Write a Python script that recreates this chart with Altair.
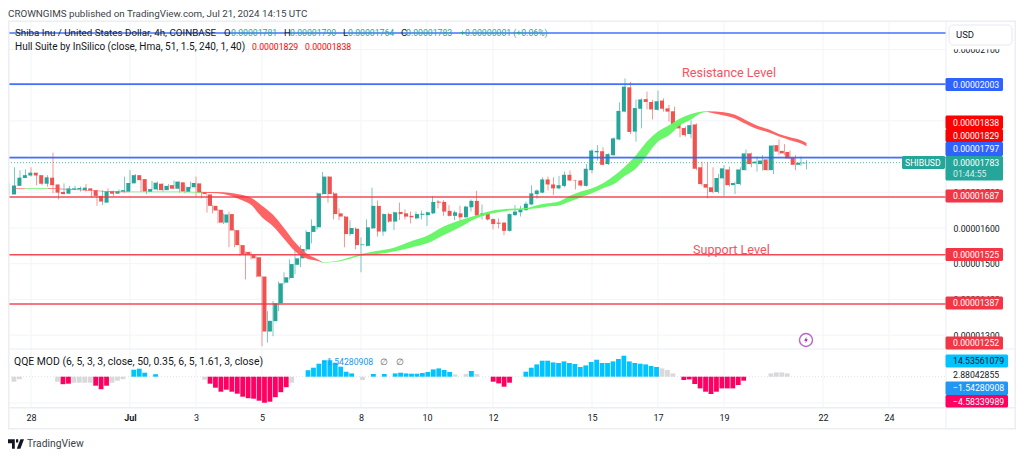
import altair as alt
import pandas as pd

# ---------- candles: prices in 1e-8 USD, first bar index -4, one bar = 4h ----------
first_bar = -4
opens = [1694,1718,1740,1747,1755,1748,1724,1741,1722,1701,1696,1708,1709,1706,1711,1706,1690,1671,1703,1696,1702,1702,1725,1748,1737,1701,1708,1724,1706,1720,1710,1728,1701,1714,1725,1701,1694,1662,1651,1615,
 1639,1594,1552,1533,1524,1518,1464,1310,1339,1389,1447,1460,1497,1515,1540,1589,1602,1695,1744,1697,1641,1632,1583,1598,1552,1550,1599,1662,1590,1639,1618,1645,1641,1634,1627,1637,1636,1641,1674,1673,1648,1634,1641,1630,1658,1676,1635,1641,1625,1615,1615,1592,1636,1644,1650,1666,1695,
 1699,1736,1722,1711,1718,1749,1734,1733,1718,1762,1812,1815,1779,1804,1848,1926,1994,1870,1934,1961,1953,1931,1957,1935,1927,1891,1880,1863,1890,1770,1723,1714,1701,1739,1764,1720,1723,1762,1809,1781,1779,1792,1762,1832,1816,1813,1797,1777,1781]
highs = [1725,1770,1762,1764,1770,1750,1746,1748,1811,1706,1725,1718,1718,1716,1723,1711,1697,1706,1711,1705,1708,1744,1762,1751,1738,1714,1732,1730,1725,1723,1733,1730,1720,1730,1744,1703,1695,1664,1653,1641,
 1646,1596,1554,1534,1534,1520,1466,1367,1396,1450,1476,1512,1555,1552,1594,1624,1699,1757,1746,1701,1655,1634,1622,1602,1574,1624,1713,1677,1641,1643,1646,1671,1652,1646,1646,1649,1646,1690,1678,1678,1664,1649,1662,1662,1680,1704,1666,1645,1627,1627,1617,1641,1664,1662,1674,1720,1708,
 1742,1744,1742,1746,1758,1761,1735,1734,1779,1820,1832,1826,1809,1854,1952,2019,2009,1960,1963,1982,1959,1985,1963,1945,1940,1898,1884,1902,1893,1786,1783,1770,1751,1776,1772,1730,1770,1820,1811,1800,1804,1794,1833,1848,1835,1817,1804,1800,1790]
lows = [1694,1716,1739,1744,1744,1720,1720,1716,1697,1680,1694,1705,1706,1702,1702,1685,1662,1664,1692,1690,1699,1699,1723,1730,1701,1695,1706,1705,1702,1706,1708,1699,1697,1710,1688,1683,1643,1641,1613,1611,
 1546,1546,1522,1456,1512,1462,1269,1279,1297,1367,1442,1456,1471,1490,1534,1557,1595,1694,1671,1624,1622,1546,1578,1540,1476,1548,1597,1576,1578,1615,1594,1622,1624,1613,1624,1624,1606,1639,1655,1634,1632,1622,1618,1629,1646,1627,1624,1621,1596,1599,1580,1590,1634,1632,1648,1664,1682,
 1697,1705,1692,1708,1714,1731,1708,1716,1716,1753,1789,1776,1777,1802,1846,1924,1863,1842,1879,1932,1904,1929,1926,1898,1888,1854,1856,1851,1762,1718,1683,1697,1697,1690,1716,1695,1720,1761,1770,1758,1761,1761,1751,1804,1804,1793,1762,1774,1764]
closes = [1719,1741,1748,1755,1747,1724,1742,1720,1699,1695,1711,1711,1712,1713,1705,1690,1674,1702,1696,1703,1706,1726,1748,1734,1702,1709,1727,1706,1718,1710,1730,1702,1715,1726,1699,1695,1662,1649,1615,1638,
 1593,1552,1526,1527,1515,1464,1310,1340,1389,1445,1462,1499,1515,1541,1589,1606,1697,1744,1695,1639,1632,1583,1600,1552,1554,1602,1662,1590,1639,1618,1644,1639,1632,1630,1639,1640,1644,1673,1671,1646,1634,1644,1630,1660,1676,1635,1641,1624,1611,1612,1592,1639,1646,1652,1668,1697,1705,
 1736,1722,1711,1720,1749,1733,1733,1719,1766,1817,1816,1777,1807,1851,1928,1996,1869,1936,1960,1953,1932,1955,1934,1926,1890,1879,1860,1888,1766,1723,1713,1701,1740,1767,1720,1726,1764,1809,1779,1786,1789,1762,1831,1814,1809,1795,1777,1783,1783]

# ---------- Hull suite band segments ----------
hull_segments = [
 ("#ff5c5c", [-3,-1], [1711,1711], [1709,1709]),
 ("#62f562", [-1,3], [1711,1712], [1709,1710]),
 ("#ff5c5c", [3,7,11,14,18], [1712,1709,1706,1703,1702], [1710,1707,1704,1701,1700]),
 ("#62f562", [18,24,31], [1702,1702,1701], [1700,1700,1699]),
 ("#ff5c5c", [31,34,36,38,40,42,44,46,48,50,52,53], [1701,1701,1699,1694,1685,1662,1637,1600,1560,1530,1513,1504], [1699,1697,1692,1680,1665,1630,1605,1570,1535,1515,1508,1503]),
 ("#62f562", [53,56,60,63,66,69,72,75,78,81,84,87,90,92,94,96,98,100,102,104,106,108,110,112,114,116,118,120,122,123], [1504,1509,1527,1536,1545,1562,1578,1604,1622,1636,1649,1654,1656,1664,1669,1674,1690,1702,1711,1725,1746,1772,1804,1842,1870,1888,1907,1919,1926,1927], [1503,1506,1522,1527,1534,1545,1557,1580,1602,1627,1641,1649,1652,1655,1660,1663,1674,1686,1697,1711,1723,1746,1767,1804,1842,1860,1888,1904,1923,1925]),
 ("#ff5c5c", [123,126,128,130,132,134,136,138,140,141], [1927,1924,1917,1902,1887,1877,1863,1854,1846,1838], [1925,1915,1907,1891,1877,1868,1856,1846,1837,1829]),
]

# ---------- QQE histogram ----------
gray_i = [-4,-3,4,7,8,9,10,14,15,16,31,47,60,77,79,81,115,116,117,135,136,137,138]
gray_v = [-5,-2.5,-5,-6,-6,-6,-6,-6,-4,-2.5,-3,-6,-3.3,2.3,2.7,2.7,8.3,6.7,3.3,3.3,4.3,4.3,3.3]
cyan_i = [18,19,20,22] + list(range(50,59)) + [62,64] + list(range(66,77)) + [80] + list(range(90,115))
cyan_v = [7,8,4,2.5, 6.5,9,13,16.5,16.5,14,10,5,3.3, 2.7,2.7, 3.3,4,3.3,3,3,3.7,4.7,7.3,8.3,6.7,4.7, 5.7,
          5,9,12.3,16,16,14.3,13.7,15.3,13.7,12.7,9.7,11.3,14.7,17,13.7,13.7,15.3,17.7,21,15.3,13.7,13,12.3,10.7,9.7]
pink_i = [5,6,11,12,13] + list(range(32,47)) + [84,85,86,87] + list(range(119,131))
pink_v = [-7.5,-7,-9,-12.5,-9, -7,-11,-15,-13,-15,-17,-20,-21.5,-22,-24,-26,-25,-20.5,-15.5,-10.5,
          -5,-6.7,-10,-6, -3.3,-2.7,-7.3,-11.7,-15,-17.3,-15,-11.7,-11.7,-11.7,-8.3,-4]

# ---------- levels and axes ----------
blue_levels = [2146, 2003, 1797]
red_levels = [1687, 1525, 1387]
last_price = 1783
price_ticks = [1300,1400,1500,1600,1700,1800,1900,2000,2100]
time_ticks = [0,18,30,42,60,72,84,102,114,126,144,156]
time_labels = ["28","Jul","3","5","8","10","12","15","17","19","22","24"]

W, H = 1008, 442
FONT = "Roboto"
TXT = "#131722"
GRIDC = "#f2f4f8"
FRAME = "#eceef4"
GREEN = "#26a69a"
RED = "#ef5350"

xs = alt.Scale(domain=[-4.18, 179.09], nice=False, zero=False)
ys = alt.Scale(domain=[978.2, 2216.2], nice=False, zero=False)
qs = alt.Scale(domain=[-73.3, 368.7], nice=False, zero=False)
PANE_END = 166.36

def X(f="i", **k):
    return alt.X(f"{f}:Q", scale=xs, axis=None, **k)
def Y(f="p", **k):
    return alt.Y(f"{f}:Q", scale=ys, axis=None, **k)
def PX(f="x"):
    return alt.X(f"{f}:Q", scale=None, axis=None)
def PY(f="y"):
    return alt.Y(f"{f}:Q", scale=None, axis=None)

n = len(opens)
candles = pd.DataFrame({"i": list(range(first_bar, first_bar + n)), "o": opens, "h": highs, "l": lows, "c": closes})
candles["col"] = [GREEN if c >= o else RED for o, c in zip(opens, closes)]

layers = []

# price grid + real price axis
grid_p = pd.DataFrame({"p": price_ticks, "a": -4.18, "b": PANE_END})
price_axis = alt.Axis(orient="right", offset=-70, values=price_ticks, labelExpr="'0.0000' + datum.value",
                      domain=False, ticks=False, grid=False, labelPadding=7, labelAlign="left",
                      labelFont=FONT, labelFontSize=8.7, labelColor=TXT, labelOverlap=False,
                      labelBound=False, labelFlush=False, title=None, zindex=0)
layers.append(alt.Chart(grid_p).mark_rule(color=GRIDC, strokeWidth=1).encode(
    x=X("a"), x2="b:Q", y=alt.Y("p:Q", scale=ys, axis=price_axis)))

# vertical grid + real time axis
label_map = "{" + ",".join(f"'{t}':'{l}'" for t, l in zip(time_ticks, time_labels)) + "}"
time_axis = alt.Axis(orient="bottom", offset=-42, values=time_ticks,
                     labelExpr=f"{label_map}[''+datum.value]",
                     domain=False, ticks=False, grid=False, labelPadding=5, labelFont=FONT,
                     labelFontSize=9, labelColor=TXT, labelOverlap=False, labelBound=False, labelFlush=False,
                     labelFontWeight={"condition": {"test": "datum.value==18", "value": "bold"}, "value": "normal"},
                     title=None, zindex=0)
grid_t = pd.DataFrame({"i": time_ticks, "y": 13, "y2": 400})
layers.append(alt.Chart(grid_t).mark_rule(color=GRIDC, strokeWidth=1).encode(
    x=alt.X("i:Q", scale=xs, axis=time_axis), y=PY("y"), y2="y2:Q"))

# QQE grid
layers.append(alt.Chart(pd.DataFrame({"q": [-26.3], "a": [-4.18], "b": [PANE_END]})).mark_rule(color=GRIDC).encode(
    x=X("a"), x2="b:Q", y=alt.Y("q:Q", scale=qs, axis=None)))
layers.append(alt.Chart(pd.DataFrame({"q": [0], "a": [-4.18], "b": [PANE_END]})).mark_rule(color="#dfe2e8", strokeDash=[1, 2]).encode(
    x=X("a"), x2="b:Q", y=alt.Y("q:Q", scale=qs, axis=None)))

# QQE bars
for idx, vals, col in [(gray_i, gray_v, "#d9d9dc"), (cyan_i, cyan_v, "#00c3ff"), (pink_i, pink_v, "#ff0062")]:
    d = pd.DataFrame({"i": idx, "v": vals, "z": 0})
    layers.append(alt.Chart(d).mark_bar(size=4.8, color=col).encode(
        x=X(), y=alt.Y("v:Q", scale=qs, axis=None), y2="z:Q"))

# last price dotted
layers.append(alt.Chart(pd.DataFrame({"p": [last_price], "a": [-4.18], "b": [PANE_END]})).mark_rule(color=GREEN, strokeDash=[1, 2], opacity=0.8).encode(
    x=X("a"), x2="b:Q", y=Y()))

# candles
layers.append(alt.Chart(candles).mark_rule(strokeWidth=1, opacity=0.6).encode(
    x=X(), y=Y("l"), y2="h:Q", color=alt.Color("col:N", scale=None)))
layers.append(alt.Chart(candles).mark_bar(size=4).encode(
    x=X(), y=Y("o"), y2="c:Q", color=alt.Color("col:N", scale=None)))

# hull band
for col, idx, up, lo in hull_segments:
    d = pd.DataFrame({"i": idx, "u": up, "l": lo})
    layers.append(alt.Chart(d).mark_area(color=col, opacity=0.95, interpolate="monotone").encode(
        x=X(), y=Y("u"), y2="l:Q"))

# levels
for vals, col in [(blue_levels, "#2f62ff"), (red_levels, "#f23645")]:
    d = pd.DataFrame({"p": vals, "a": -4.18, "b": PANE_END})
    layers.append(alt.Chart(d).mark_rule(color=col, strokeWidth=1.6, opacity=0.9).encode(
        x=X("a"), x2="b:Q", y=Y()))

# frame / panel lines and badges (page pixels minus the 8px margin)
def P(rows):
    return pd.DataFrame([{"x": a - 8, "x2": b - 8, "y": c - 8, "y2": e - 8, "col": f} for a, b, c, e, f in rows])

frame = P([(8, 1016, 20.5, 22, FRAME), (8, 1016, 428, 429.5, FRAME), (8, 9.5, 21, 429, FRAME),
           (1014.5, 1016, 21, 429, FRAME), (945.5, 946.5, 21, 429, FRAME),
           (8, 1016, 348.5, 349.5, FRAME), (8, 1016, 407, 408.5, FRAME)])
layers.append(alt.Chart(frame).mark_rect().encode(x=PX(), x2="x2:Q", y=PY(), y2="y2:Q", color=alt.Color("col:N", scale=None)))

BR = "#f23645"
badges = P([(947, 1014, 45, 49.3, "#ffffff"),
            (945.5, 1003, 78, 91, "#2f62ff"), (945.5, 1003, 115.5, 129, "#ff0000"), (945.5, 1003, 129, 142, "#ff0000"),
            (945.5, 1003, 142, 156, "#2f62ff"), (945.5, 1003, 156, 180.5, GREEN), (902, 945, 156, 169, GREEN),
            (945.5, 1003, 189.5, 202.5, BR), (945.5, 1003, 248, 261, BR), (945.5, 1003, 296.5, 309.5, BR),
            (945.5, 1003, 336.5, 349.5, BR), (945.5, 1008, 354.5, 367.5, "#00c3ff"),
            (945.5, 1008, 381.5, 395, "#2196f3"), (945.5, 1008, 395, 407.5, "#ff0062")])
layers.append(alt.Chart(badges).mark_rect(cornerRadius=1.5).encode(x=PX(), x2="x2:Q", y=PY(), y2="y2:Q", color=alt.Color("col:N", scale=None)))
usd = P([(949, 1012, 25, 45, "#ffffff")])
layers.append(alt.Chart(usd).mark_rect(cornerRadius=4, stroke="#e6e8ef", strokeWidth=1).encode(
    x=PX(), x2="x2:Q", y=PY(), y2="y2:Q", color=alt.Color("col:N", scale=None)))

# texts
T = [
 ("CROWNGIMS published on TradingView.com, Jul 21, 2024 14:15 UTC", 8, 13.5, "#3c3f48", 9.8),
 ("Shiba Inu / United States Dollar, 4h, COINBASE", 15, 33, TXT, 9.8),
 ("O", 224, 33, TXT, 9.5), ("0.00001781", 231, 33, GREEN, 8.7),
 ("H", 284, 33, TXT, 9.5), ("0.00001790", 290, 33, GREEN, 8.7),
 ("L", 343, 33, TXT, 9.5), ("0.00001764", 348, 33, GREEN, 8.7),
 ("C", 401, 33, TXT, 9.5), ("0.00001783", 406, 33, GREEN, 8.7),
 ("+0.00000001 (+0.06%)", 460, 33, GREEN, 8.7),
 ("Hull Suite by InSilico (close, Hma, 51, 1.5, 240, 1, 40)", 15, 46.5, TXT, 10),
 ("0.00001829", 252, 46.5, "#ff0000", 8.7), ("0.00001838", 305, 46.5, "#ff0000", 8.7),
 ("QQE MOD (6, 5, 3, 3, close, 50, 0.35, 6, 5, 1.61, 3, close)", 14, 362, TXT, 10.4),
 ("\u22121.54280908", 322, 362, "#2196f3", 8.7), ("\u2205", 380, 362, "#5d606b", 9), ("\u2205", 396, 362, "#5d606b", 9),
 ("USD", 956, 35, TXT, 9.5),
 ("SHIBUSD", 905, 162.5, "#ffffff", 8.7),
 ("0.00002003", 953, 84.5, "#ffffff", 8.7), ("0.00001838", 953, 122.5, "#ffffff", 8.7),
 ("0.00001829", 953, 135.5, "#ffffff", 8.7), ("0.00001797", 953, 149, "#ffffff", 8.7),
 ("0.00001783", 953, 162.5, "#ffffff", 8.7), ("01:44:55", 953, 174, "#d5f0ec", 8.7),
 ("0.00001687", 953, 196, "#ffffff", 8.7), ("0.00001525", 953, 254.5, "#ffffff", 8.7),
 ("0.00001387", 953, 303, "#ffffff", 8.7), ("0.00001252", 953, 343, "#ffffff", 8.7),
 ("14.53561079", 953, 361, TXT, 8.7), ("2.88042855", 953, 375, TXT, 8.7),
 ("\u22121.54280908", 953, 388, "#ffffff", 8.7), ("\u22124.58339989", 953, 402, "#ffffff", 8.7),
 ("Resistance Level", 682, 72.5, "#f7525f", 12.6), ("Support Level", 693, 250, "#f7525f", 12.6),
 ("TradingView", 27, 444, "#3c3f48", 10.3),
]
td = pd.DataFrame([{"t": a, "x": b - 8, "y": c - 8, "col": d, "s": e} for a, b, c, d, e in T])
layers.append(alt.Chart(td).mark_text(align="left", baseline="middle", font=FONT).encode(
    x=PX(), y=PY(), text="t:N", color=alt.Color("col:N", scale=None), size=alt.Size("s:Q", scale=None)))

# bolt icon and logo
BOLT = "M0.2,-1 L-0.6,0.2 L-0.05,0.2 L-0.2,1 L0.6,-0.2 L0.05,-0.2 Z"
LOGO = "M-1,-0.6 L-0.15,-0.6 L-0.15,0.6 L-0.5,0.6 L-0.5,-0.1 L-1,-0.1 Z M0,-0.6 L0.28,-0.6 L0.28,-0.2 L0,-0.2 Z M0.55,-0.6 L1,-0.6 L0.55,0.6 L0.1,0.6 Z"
pt = pd.DataFrame({"x": [806 - 8], "y": [340 - 8]})
layers.append(alt.Chart(pt).mark_point(shape="circle", size=170, stroke="#9c27b0", strokeWidth=1.4, filled=False).encode(x=PX(), y=PY()))
layers.append(alt.Chart(pt).mark_point(shape=BOLT, size=40, fill="#9c27b0", filled=True, opacity=1).encode(x=PX(), y=PY()))
lg = pd.DataFrame({"x": [16 - 8], "y": [444 - 8]})
layers.append(alt.Chart(lg).mark_point(shape=LOGO, size=256, fill="#131722", filled=True, opacity=1).encode(x=PX(), y=PY()))

chart = alt.layer(*layers).resolve_scale(x="independent", y="independent").properties(
    width=W, height=H, padding=0, autosize="none", background="white"
).configure_view(stroke=None)

chart.save("out.html", embed_options={"renderer": "svg", "actions": False})
